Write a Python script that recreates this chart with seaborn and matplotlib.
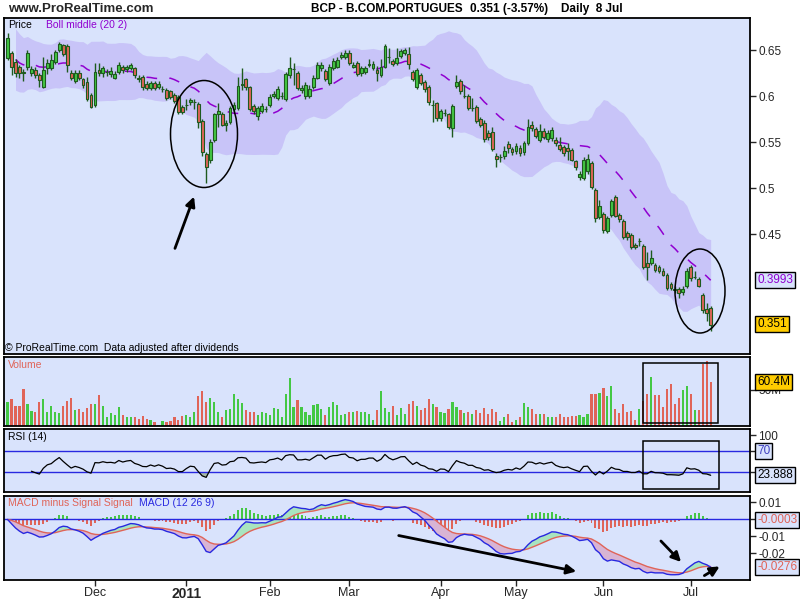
import numpy as np
import pandas as pd
import matplotlib
matplotlib.use("Agg")
import matplotlib.pyplot as plt
from matplotlib.patches import Ellipse, Rectangle
import seaborn as sns

# daily candles, 1 Nov 2010 .. 8 Jul 2011 (trading day index 0..177)
opens = [0.641, 0.647, 0.637, 0.632, 0.626, 0.631, 0.625, 0.628, 0.623, 0.610,
         0.630, 0.630, 0.637, 0.650, 0.655, 0.654, 0.625, 0.616, 0.625, 0.619,
         0.615, 0.601, 0.590, 0.628, 0.625, 0.626, 0.624, 0.620, 0.626, 0.632,
         0.629, 0.630, 0.630, 0.620, 0.621, 0.613, 0.609, 0.614, 0.610, 0.608,
         0.607, 0.605, 0.601, 0.599, 0.588, 0.590, 0.593, 0.594, 0.591, 0.573,
         0.537, 0.530, 0.552, 0.581, 0.581, 0.568, 0.572, 0.586, 0.587, 0.612,
         0.618, 0.610, 0.589, 0.578, 0.584, 0.586, 0.590, 0.600, 0.598, 0.600,
         0.597, 0.623, 0.629, 0.625, 0.606, 0.600, 0.600, 0.610, 0.620, 0.630,
         0.627, 0.614, 0.630, 0.632, 0.642, 0.642, 0.647, 0.632, 0.636, 0.625,
         0.626, 0.634, 0.630, 0.628, 0.623, 0.632, 0.642, 0.638, 0.636, 0.643,
         0.647, 0.646, 0.626, 0.610, 0.623, 0.615, 0.610, 0.590, 0.592, 0.576,
         0.582, 0.580, 0.565, 0.611, 0.616, 0.600, 0.600, 0.587, 0.588, 0.575,
         0.571, 0.560, 0.561, 0.535, 0.534, 0.535, 0.548, 0.542, 0.540, 0.544,
         0.539, 0.549, 0.568, 0.564, 0.552, 0.562, 0.553, 0.554, 0.552, 0.547,
         0.545, 0.544, 0.541, 0.529, 0.512, 0.511, 0.518, 0.527, 0.498, 0.468,
         0.472, 0.453, 0.471, 0.490, 0.471, 0.464, 0.451, 0.449, 0.438, 0.442,
         0.437, 0.418, 0.418, 0.416, 0.414, 0.410, 0.406, 0.396, 0.390, 0.390,
         0.387, 0.393, 0.414, 0.403, 0.401, 0.384, 0.369, 0.370]
closes = [0.663, 0.631, 0.625, 0.625, 0.625, 0.647, 0.629, 0.623, 0.617, 0.628,
          0.636, 0.639, 0.648, 0.657, 0.646, 0.634, 0.620, 0.625, 0.620, 0.612,
          0.597, 0.588, 0.626, 0.625, 0.630, 0.626, 0.627, 0.624, 0.634, 0.628,
          0.632, 0.634, 0.623, 0.618, 0.610, 0.609, 0.614, 0.609, 0.613, 0.608,
          0.598, 0.599, 0.595, 0.583, 0.583, 0.590, 0.596, 0.594, 0.572, 0.539,
          0.523, 0.550, 0.580, 0.584, 0.569, 0.571, 0.587, 0.590, 0.611, 0.613,
          0.610, 0.586, 0.584, 0.587, 0.589, 0.586, 0.599, 0.602, 0.608, 0.600,
          0.624, 0.630, 0.629, 0.609, 0.609, 0.612, 0.608, 0.620, 0.634, 0.634,
          0.619, 0.632, 0.638, 0.639, 0.645, 0.647, 0.636, 0.634, 0.624, 0.630,
          0.630, 0.635, 0.635, 0.625, 0.632, 0.654, 0.642, 0.635, 0.641, 0.649,
          0.650, 0.635, 0.619, 0.628, 0.614, 0.608, 0.593, 0.590, 0.576, 0.584,
          0.582, 0.566, 0.589, 0.615, 0.605, 0.600, 0.587, 0.587, 0.573, 0.568,
          0.553, 0.555, 0.542, 0.532, 0.534, 0.540, 0.543, 0.539, 0.546, 0.538,
          0.549, 0.566, 0.565, 0.557, 0.562, 0.556, 0.560, 0.563, 0.549, 0.542,
          0.538, 0.540, 0.531, 0.523, 0.515, 0.531, 0.532, 0.501, 0.467, 0.481,
          0.454, 0.467, 0.486, 0.470, 0.466, 0.447, 0.447, 0.436, 0.436, 0.442,
          0.414, 0.414, 0.424, 0.411, 0.410, 0.406, 0.391, 0.391, 0.389, 0.386,
          0.390, 0.410, 0.402, 0.403, 0.394, 0.367, 0.364, 0.351]
highs = [0.668, 0.649, 0.640, 0.634, 0.629, 0.650, 0.633, 0.631, 0.625, 0.642,
         0.640, 0.646, 0.650, 0.659, 0.657, 0.656, 0.628, 0.628, 0.628, 0.620,
         0.621, 0.603, 0.636, 0.636, 0.633, 0.629, 0.631, 0.627, 0.637, 0.634,
         0.634, 0.636, 0.632, 0.623, 0.623, 0.616, 0.616, 0.616, 0.616, 0.611,
         0.609, 0.607, 0.603, 0.601, 0.590, 0.597, 0.598, 0.597, 0.593, 0.575,
         0.539, 0.553, 0.582, 0.592, 0.583, 0.574, 0.589, 0.593, 0.621, 0.630,
         0.620, 0.611, 0.591, 0.589, 0.592, 0.589, 0.602, 0.605, 0.611, 0.604,
         0.626, 0.642, 0.636, 0.627, 0.612, 0.615, 0.612, 0.623, 0.637, 0.637,
         0.629, 0.635, 0.641, 0.642, 0.648, 0.650, 0.650, 0.637, 0.638, 0.633,
         0.633, 0.640, 0.638, 0.633, 0.640, 0.657, 0.652, 0.640, 0.652, 0.651,
         0.652, 0.653, 0.628, 0.630, 0.625, 0.617, 0.612, 0.596, 0.594, 0.586,
         0.586, 0.582, 0.591, 0.623, 0.618, 0.612, 0.602, 0.598, 0.590, 0.577,
         0.574, 0.563, 0.566, 0.538, 0.537, 0.546, 0.551, 0.545, 0.549, 0.547,
         0.551, 0.575, 0.573, 0.566, 0.570, 0.565, 0.563, 0.566, 0.555, 0.556,
         0.547, 0.549, 0.543, 0.531, 0.518, 0.534, 0.537, 0.529, 0.500, 0.487,
         0.474, 0.470, 0.488, 0.492, 0.473, 0.466, 0.453, 0.451, 0.440, 0.446,
         0.439, 0.430, 0.433, 0.418, 0.416, 0.413, 0.408, 0.398, 0.393, 0.392,
         0.393, 0.413, 0.416, 0.410, 0.403, 0.386, 0.375, 0.372]
lows = [0.639, 0.623, 0.621, 0.620, 0.616, 0.628, 0.622, 0.620, 0.610, 0.609,
        0.624, 0.628, 0.635, 0.648, 0.644, 0.626, 0.617, 0.614, 0.617, 0.609,
        0.595, 0.587, 0.588, 0.622, 0.621, 0.622, 0.621, 0.618, 0.624, 0.625,
        0.626, 0.628, 0.620, 0.615, 0.607, 0.606, 0.606, 0.606, 0.608, 0.604,
        0.596, 0.597, 0.592, 0.581, 0.580, 0.585, 0.590, 0.586, 0.565, 0.535,
        0.505, 0.527, 0.550, 0.566, 0.567, 0.562, 0.570, 0.583, 0.585, 0.607,
        0.607, 0.584, 0.581, 0.574, 0.582, 0.583, 0.588, 0.598, 0.596, 0.597,
        0.595, 0.620, 0.612, 0.607, 0.603, 0.597, 0.598, 0.608, 0.618, 0.627,
        0.616, 0.612, 0.628, 0.630, 0.640, 0.640, 0.634, 0.630, 0.622, 0.622,
        0.624, 0.631, 0.628, 0.616, 0.621, 0.630, 0.636, 0.633, 0.634, 0.641,
        0.645, 0.629, 0.616, 0.608, 0.612, 0.604, 0.590, 0.572, 0.573, 0.573,
        0.578, 0.564, 0.555, 0.609, 0.602, 0.598, 0.585, 0.584, 0.571, 0.566,
        0.550, 0.552, 0.540, 0.523, 0.528, 0.532, 0.538, 0.536, 0.537, 0.535,
        0.536, 0.547, 0.562, 0.554, 0.550, 0.553, 0.550, 0.551, 0.546, 0.540,
        0.535, 0.531, 0.529, 0.520, 0.509, 0.509, 0.515, 0.499, 0.463, 0.466,
        0.451, 0.451, 0.469, 0.468, 0.463, 0.445, 0.444, 0.434, 0.434, 0.437,
        0.412, 0.400, 0.416, 0.409, 0.408, 0.404, 0.389, 0.389, 0.386, 0.381,
        0.384, 0.391, 0.399, 0.401, 0.392, 0.364, 0.355, 0.345]
volumes = [33, 37, 28, 28, 51, 31, 21, 20, 33, 38,
           20, 28, 20, 18, 28, 35, 39, 22, 24, 19,
           25, 31, 31, 43, 28, 13, 18, 15, 26, 15,
           13, 13, 13, 10, 14, 10, 8, 6, 1.5, 7,
           6, 7, 13, 9, 14, 15, 13, 20, 42, 48,
           34, 39, 34, 20, 13, 22, 24, 45, 38, 32,
           22, 19, 19, 15, 19, 18, 15, 25, 23, 13,
           44, 67, 27, 36, 27, 19, 15, 29, 31, 23,
           15, 26, 34, 29, 15, 17, 20, 20, 21, 19,
           19, 17, 9, 22, 48, 25, 20, 28, 15, 25,
           17, 30, 35, 28, 22, 25, 38, 30, 27, 20,
           18, 24, 33, 26, 22, 18, 20, 16, 22, 18,
           25, 17, 24, 20, 7, 12, 17, 6, 9, 12,
           32, 27, 24, 17, 16, 16, 13, 13, 13, 16,
           13, 13, 14, 14, 15, 12, 16, 44, 44, 46,
           53, 42, 56, 24, 18, 30, 19, 21, 9, 24,
           35, 44, 68, 43, 43, 26, 52, 59, 31, 39,
           50, 56, 44, 22, 22, 86, 90, 60.4]

month_pos = [22, 45, 66, 86, 109, 128, 150, 172]
month_labels = ["Dec", "2011", "Feb", "Mar", "Apr", "May", "Jun", "Jul"]
price_ticks = [0.45, 0.5, 0.55, 0.6, 0.65]
price_tick_labels = ["0.45", "0.5", "0.55", "0.6", "0.65"]
macd_ticks = [0.01, 0.0, -0.01, -0.02]
macd_tick_labels = ["0.01", "", "-0.01", "-0.02"]

BG = "#D9E3FC"
BAND = "#C8C4F8"
GREEN = "#44C844"
RED = "#E06458"
EDGE = "#1E5A1E"
BLUE = "#2828E0"
PURPLE = "#9000D0"

df = pd.DataFrame({"open": opens, "high": highs, "low": lows,
                   "close": closes, "volume": volumes})
df["i"] = np.arange(len(df))
up = df["close"] >= df["open"]

# indicators as named on the chart
mid = df["close"].rolling(20, min_periods=3).mean()
sd = df["close"].rolling(20, min_periods=3).std(ddof=0)
upper, lower = mid + 2 * sd, mid - 2 * sd

delta = df["close"].diff()
gain = delta.clip(lower=0).ewm(alpha=1 / 14, min_periods=6).mean()
loss = (-delta.clip(upper=0)).ewm(alpha=1 / 14, min_periods=6).mean()
rsi = 100 - 100 / (1 + gain / loss)

ema12 = df["close"].ewm(span=12, adjust=False).mean()
ema26 = df["close"].ewm(span=26, adjust=False).mean()
macd = ema12 - ema26
signal = macd.ewm(span=9, adjust=False).mean()
hist = macd - signal

sns.set_style("white")
plt.rcParams["font.family"] = ["Liberation Sans", "DejaVu Sans"]

fig = plt.figure(figsize=(8, 6), dpi=100)
fig.patch.set_facecolor("white")


def panel(top, bottom):
    ax = fig.add_axes([4 / 800, 1 - bottom / 600, 746 / 800, (bottom - top) / 600])
    ax.set_facecolor(BG)
    ax.set_xlim(-0.9, 186.9)
    for s in ax.spines.values():
        s.set_color("black")
        s.set_linewidth(1.3)
    ax.yaxis.tick_right()
    ax.tick_params(axis="y", direction="out", length=4, width=1, labelsize=8.5, pad=2)
    ax.tick_params(axis="x", bottom=False, labelbottom=False)
    return ax


# price
ax = panel(18, 354)
ax.set_ylim(0.3196, 0.6848)
ax.fill_between(df["i"], lower, upper, color=BAND, lw=0)
ax.plot(df["i"], mid, color=PURPLE, lw=1.1, dashes=(7, 8))
ax.vlines(df["i"], df["low"], df["high"], color=EDGE, lw=1)
body_lo = np.minimum(df["open"], df["close"])
body_h = (df["close"] - df["open"]).abs()
ax.bar(df["i"], body_h, bottom=body_lo, width=0.72,
       color=np.where(up, GREEN, RED), edgecolor=EDGE, lw=0.8, zorder=3)
ax.set_yticks(price_ticks, price_tick_labels)

# volume
axv = panel(357, 426)
axv.set_ylim(0, 95.8)
axv.bar(df["i"], df["volume"], width=0.55, color=np.where(up, GREEN, RED), lw=0)
axv.set_yticks([50], ["50M"])

# rsi
axr = panel(429, 492)
axr.set_ylim(-8.1, 111.9)
axr.axhline(70, color=BLUE, lw=1)
axr.axhline(30, color=BLUE, lw=1)
axr.fill_between(df["i"], rsi, 30, where=rsi < 30, interpolate=True, color="#A8BCA8", lw=0)
sns.lineplot(x=df["i"], y=rsi, ax=axr, color="black", lw=0.9)
axr.set_yticks([100, 70, 30], ["100", "", ""])
axr.set_xlabel("")
axr.set_ylabel("")

# macd
axm = panel(496, 580)
axm.set_ylim(-0.0356, 0.0138)
axm.bar(df["i"], hist, width=0.5, color=np.where(hist >= 0, GREEN, RED), lw=0)
axm.axhline(0, color=BLUE, lw=1)
axm.fill_between(df["i"], macd, signal, where=macd >= signal, interpolate=True,
                 color="#A8E4C0", lw=0)
axm.fill_between(df["i"], macd, signal, where=macd < signal, interpolate=True,
                 color="#D8B4D4", lw=0)
sns.lineplot(x=df["i"], y=signal, ax=axm, color=RED, lw=1)
sns.lineplot(x=df["i"], y=macd, ax=axm, color=BLUE, lw=1)
axm.set_yticks(macd_ticks, macd_tick_labels)
axm.set_xlabel("")
axm.set_ylabel("")
axm.tick_params(axis="x", bottom=True, labelbottom=True, direction="out",
                length=4, width=1, labelsize=9, pad=1)
axm.set_xticks(month_pos, month_labels)
for t in axm.get_xticklabels():
    if t.get_text() == "2011":
        t.set_fontweight("bold")
        t.set_fontsize(10)

# overlay in pixel coordinates for texts and hand drawn marks
ov = fig.add_axes([0, 0, 1, 1], facecolor="none")
ov.set_xlim(0, 800)
ov.set_ylim(600, 0)
ov.axis("off")

ov.text(8, 9, "www.ProRealTime.com", fontsize=9.5, fontweight="bold", va="center")
head = dict(fontsize=8.5, fontweight="bold", va="center", color="black")
ov.text(311, 9, "BCP - B.COM.PORTUGUES", **head)
ov.text(470, 9, "0.351 (-3.57%)", **head)
ov.text(561, 9, "Daily  8 Jul", **head)

small = dict(fontsize=7.5, va="center")
ov.text(8, 25, "Price", color="black", **small)
ov.text(46, 25, "Boll middle (20 2)", color=PURPLE, **small)
ov.text(5, 348, "\u00a9 ProRealTime.com  Data adjusted after dividends", color="black", **small)
ov.text(8, 365, "Volume", color=RED, **small)
ov.text(8, 437, "RSI (14)", color="black", **small)
ov.text(8, 503, "MACD minus Signal Signal", color=RED, **small)
ov.text(139, 503, "MACD (12 26 9)", color=BLUE, **small)


def box(y, s, fc, tc="black"):
    ov.text(757, y, s, color=tc, fontsize=8.5, va="center", ha="left",
            bbox=dict(boxstyle="square,pad=0.18", fc=fc, ec="black", lw=1))


box(280, "0.3993", BG, PURPLE)
box(324, "0.351", "#FFCC00")
box(382, "60.4M", "#FFCC00")
box(451, "70", BG, "#4040C0")
box(475, "23.888", BG)
box(520, "-0.0003", BG, RED)
box(567, "-0.0276", BG, RED)

ov.add_patch(Ellipse((204, 134), 67, 107, fill=False, ec="black", lw=1.1))
ov.add_patch(Ellipse((700, 291), 50, 84, fill=False, ec="black", lw=1.1))
ov.add_patch(Rectangle((643, 363), 75, 60, fill=False, ec="black", lw=1.1))
ov.add_patch(Rectangle((643, 441), 76, 48, fill=False, ec="black", lw=1.1))

arrow = dict(arrowstyle="-|>", color="black", lw=2, mutation_scale=14)
ov.annotate("", xy=(195, 194), xytext=(174, 251), arrowprops=arrow)
ov.annotate("", xy=(579, 572), xytext=(396, 535), arrowprops=arrow)
ov.annotate("", xy=(683, 564), xytext=(659, 539), arrowprops=arrow)
ov.annotate("", xy=(722, 565), xytext=(702, 577), arrowprops=arrow)

fig.savefig("out.png", dpi=100)
